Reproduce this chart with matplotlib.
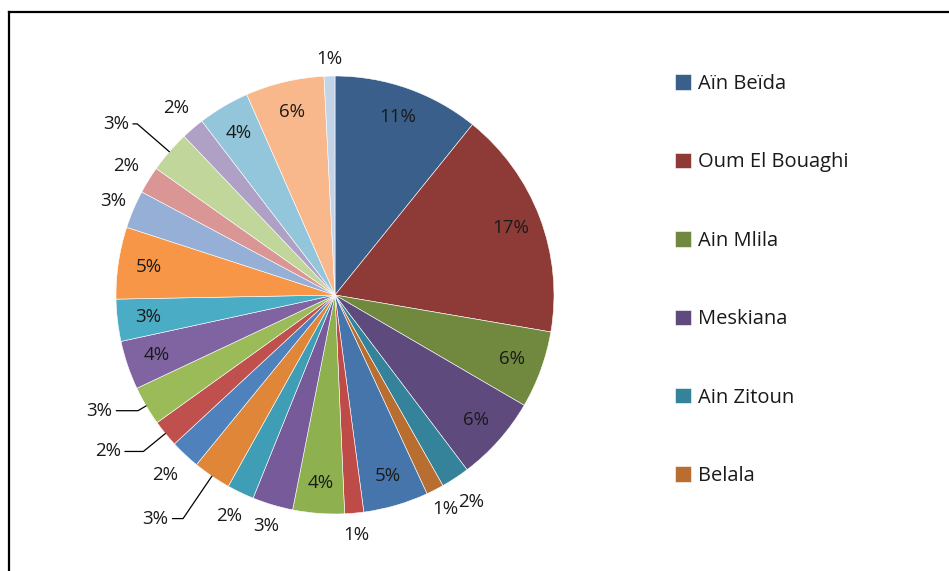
import matplotlib
matplotlib.use('Agg')
import matplotlib.pyplot as plt
from matplotlib.lines import Line2D
import numpy as np

plt.rcParams['font.family'] = ['Open Sans', 'DejaVu Sans']

# share of each commune (percent), clockwise from 12 o'clock
shares = [10.8, 16.9, 5.7, 6.3, 2.1, 1.3, 4.8, 1.4, 3.8, 3.0, 2.0, 2.8, 2.2,
          2.0, 2.9, 3.6, 3.1, 5.3, 2.8, 2.0, 3.1, 1.7, 3.8, 5.8, 0.8]
# only the first six names show in the legend
communes = ['Aïn Beïda', 'Oum El Bouaghi', 'Ain Mlila', 'Meskiana',
            'Ain Zitoun', 'Belala']

colors = ['#3A5F8B', '#8E3B38', '#71893F', '#5E4A7C', '#34839A', '#B86E30',
          '#4675AC', '#BE4B48', '#8FB04F', '#775A9A', '#3F9DB5', '#E08639',
          '#4F81BD', '#C0504D', '#9BBB59', '#8064A2', '#4BACC6', '#F79646',
          '#95AFD6', '#D99694', '#C0D69B', '#AFA0C6', '#93C6DA', '#F9B88C',
          '#C3D3E8']

# label layout: distance from centre (radius = 1)
label_r = {4: 1.13, 5: 1.10, 7: 1.10, 9: 1.10, 10: 1.12, 12: 1.13,
           18: 1.10, 19: 1.12, 21: 1.12, 24: 1.08}
# labels with a leader line: (distance, angle shift in degrees, clockwise)
leaders = {11: (1.31, 4.6), 13: (1.26, 4.7), 14: (1.20, 4.3), 20: (1.27, -2.9)}

W, H = 949, 571
fig = plt.figure(figsize=(W / 100, H / 100), dpi=100)

# pie centre (335, 295) px, radius 219 px
R = 219.0
cx, cy = 335.0, 295.0
lim = 1.4
side = 2 * lim * R
ax = fig.add_axes([(cx - side / 2) / W, (H - cy - side / 2) / H, side / W, side / H])

wedges, _ = ax.pie(shares, colors=colors, startangle=90, counterclock=False,
                   wedgeprops=dict(edgecolor='white', linewidth=0.4))
ax.set_xlim(-lim, lim)
ax.set_ylim(-lim, lim)
ax.set_aspect('equal')
ax.axis('off')

fs = 13.5
total = float(sum(shares))
for i, w in enumerate(wedges):
    txt = '%d%%' % int(shares[i] / total * 100 + 0.5)
    mid = np.deg2rad((w.theta1 + w.theta2) / 2.0)
    if i in leaders:
        r, shift = leaders[i]
        a = mid - np.deg2rad(shift)
        edge = (np.cos(mid), np.sin(mid))
        ax.annotate(txt, xy=edge, xytext=(r * np.cos(a), r * np.sin(a)),
                    ha='center', va='center', fontsize=fs, color='#1a1a1a',
                    arrowprops=dict(arrowstyle='-', color='black', lw=0.9,
                                    shrinkA=1, shrinkB=0,
                                    connectionstyle='angle,angleA=0,angleB=%.1f,rad=0'
                                    % np.rad2deg(mid)))
    else:
        r = label_r.get(i, 0.86)
        ax.text(r * np.cos(mid), r * np.sin(mid), txt, ha='center', va='center',
                fontsize=fs, color='#1a1a1a')

leg = fig.legend(wedges[:len(communes)], communes, loc='upper left',
                 bbox_to_anchor=(665 / W, 1 - 64 / H), frameon=False,
                 fontsize=14.5, labelspacing=2.9, handlelength=0.8,
                 handleheight=0.8, handletextpad=0.35, borderpad=0)
for t in leg.get_texts():
    t.set_color('#1a1a1a')

# chart frame (only the left and top edges are inside the picture)
fig.add_artist(Line2D([9 / W, 9 / W], [0, 1 - 12 / H], color='black', lw=1.6))
fig.add_artist(Line2D([9 / W, 1], [1 - 12 / H, 1 - 12 / H], color='black', lw=1.6))

fig.savefig('out.png', dpi=100, facecolor='white')
